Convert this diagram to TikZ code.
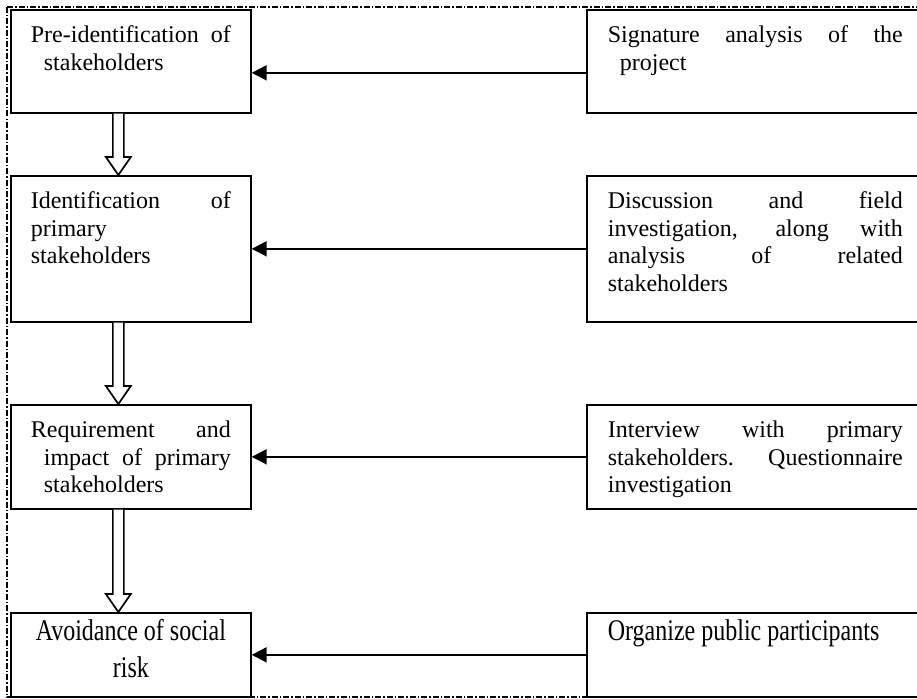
\documentclass[tikz,border=0pt]{standalone}
\usepackage{graphicx}
\usepackage{fontspec}
\setmainfont{Liberation Serif}
\usetikzlibrary{arrows.meta,calc}

\newcommand\jl[1]{\makebox[\linewidth][s]{#1}}
\newcommand\fl{\rule{0pt}{33pt}}
\newcommand\flb{\rule{0pt}{28pt}}
\newcommand\tall[1]{\scalebox{1}[1.25]{#1}}
\newcommand\hollowdown[2]{%
  \draw[hollow] ($(#1.south)+(-18pt,0pt)$) -- ($(#2.north)+(-18pt,18pt)$)
    -- ($(#2.north)+(-25pt,18pt)$) -- ($(#2.north)+(-12.5pt,0pt)$)
    -- ($(#2.north)+(0pt,18pt)$) -- ($(#2.north)+(-7pt,18pt)$)
    -- ($(#1.south)+(-7pt,0pt)$);}

\begin{document}
\begin{tikzpicture}[x=1pt,y=-1pt,
  box/.style={draw, line width=1.7pt, inner ysep=0pt, anchor=north west,
    font=\fontsize{24}{27.5}\selectfont},
  lbox/.style={box, inner xsep=20pt},
  rbox/.style={box, inner xsep=21pt},
  link/.style={line width=2pt, -{Triangle[length=15pt,width=15pt]}},
  hollow/.style={line width=1.7pt, fill=white, line join=miter},
  frame/.style={line width=1.2pt, dash pattern=on 6pt off 2pt on 1.5pt off 2pt}]
\useasboundingbox (0,0) rectangle (917,698);
\draw[frame] (7,7) rectangle (930,697);

\node[lbox] (l1) at (10,9) {\parbox[c][103pt][t]{200pt}{\fl\jl{Pre-identification of}\\\hspace*{13pt}stakeholders}};
\node[lbox] (l2) at (10,175) {\parbox[c][146pt][t]{200pt}{\fl\jl{Identification of}\\primary\\stakeholders}};
\node[lbox] (l3) at (10,404) {\parbox[c][104pt][t]{200pt}{\fl\jl{Requirement and}\\\hspace*{13pt}\makebox[187pt][s]{impact of primary}\\\hspace*{13pt}stakeholders}};
\node[lbox] (l4) at (10,612) {\parbox[c][84pt][t]{200pt}{\centering\flb\tall{Avoidance of social}\\[9.5pt]\tall{risk}\par}};

\node[rbox] (r1) at (586,9) {\parbox[c][103pt][t]{295pt}{\fl\jl{Signature analysis of the}\\\hspace*{12pt}project}};
\node[rbox] (r2) at (586,175) {\parbox[c][146pt][t]{295pt}{\fl\jl{Discussion and field}\\\jl{investigation, along with}\\\jl{analysis of related}\\stakeholders}};
\node[rbox] (r3) at (586,404) {\parbox[c][104pt][t]{295pt}{\fl\jl{Interview with primary}\\\jl{stakeholders. Questionnaire}\\investigation}};
\node[rbox] (r4) at (586,612) {\parbox[c][84pt][t]{295pt}{\flb\tall{Organize public participants}}};

\draw[link] ([yshift=-11.5pt]r1.west) -- ([yshift=-11.5pt]l1.east);
\draw[link] (r2.west) -- (l2.east);
\draw[link] (r3.west) -- (l3.east);
\draw[link] (r4.west) -- (l4.east);

\hollowdown{l1}{l2}
\hollowdown{l2}{l3}
\hollowdown{l3}{l4}
\end{tikzpicture}
\end{document}
